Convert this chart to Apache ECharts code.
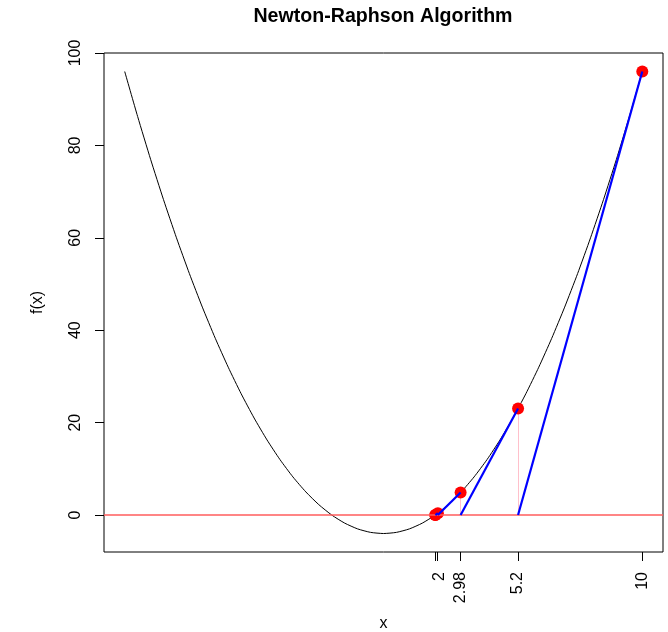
<!DOCTYPE html>
<html>
<head>
<meta charset="utf-8">
<script src="https://cdn.jsdelivr.net/npm/echarts@6/dist/echarts.min.js"></script>
<style>
  html, body { margin: 0; padding: 0; background: #ffffff; }
  #main { width: 668px; height: 632px; }
</style>
</head>
<body>
<div id="main"></div>
<script>
// 曲线 f(x) 读图取值
var curveX = [-10, -9.5, -9, -8.5, -8, -7.5, -7, -6.5, -6, -5.5, -5, -4.5, -4, -3.5, -3, -2.5, -2, -1.5, -1, -0.5,
    0, 0.5, 1, 1.5, 2, 2.5, 3, 3.5, 4, 4.5, 5, 5.5, 6, 6.5, 7, 7.5, 8, 8.5, 9, 9.5, 10]
var curveY = [96, 86.25, 77, 68.25, 60, 52.25, 45, 38.25, 32, 26.25, 21, 16.25, 12, 8.25, 5, 2.25, 0, -1.75, -3, -3.75,
    -4, -3.75, -3, -1.75, 0, 2.25, 5, 8.25, 12, 16.25, 21, 26.25, 32, 38.25, 45, 52.25, 60, 68.25, 77, 86.25, 96]

// 迭代点
var iterX = [10, 5.2, 2.98, 2.1, 2.006, 2.0]
var iterY = [96, 23.04, 4.88, 0.41, 0.02, 0]

// 坐标轴刻度
var xTicks = [2.0, 2.006, 2.08, 2.98, 5.2, 10]
var xLabelPos = [2.16, 2.98, 5.2, 10]
var xLabelText = ['2', '2.98', '5.2', '10']
var yTicks = [0, 20, 40, 60, 80, 100]

var curveData = []
for (let i = 0; i < curveX.length; i++) {
    curveData.push([curveX[i], curveY[i]])
}
var pointData = []
var tangentLines = []   // 蓝色切线
var dropLines = []      // 粉色竖线
for (let i = 0; i < iterX.length; i++) {
    pointData.push([iterX[i], iterY[i]])
    if (i + 1 < iterX.length) {
        tangentLines.push({coords: [[iterX[i], iterY[i]], [iterX[i + 1], 0]]})
        dropLines.push({coords: [[iterX[i + 1], 0], [iterX[i + 1], iterY[i + 1]]]})
    }
}

var chartDom = document.getElementById('main');
var myChart = echarts.init(chartDom);
var option;
var fontFam = 'Liberation Sans, Arial, sans-serif'

option = {
    animation: false,
    title: {
        text: 'Newton-Raphson Algorithm',
        left: 378,
        top: 2,
        textAlign: 'center',
        textStyle: {
            color: '#000000',
            fontWeight: 'bold',
            fontFamily: fontFam,
            fontSize: 19.6
        }
    },
    grid: {
        left: 104,
        right: 5,
        top: 53,
        bottom: 80,
        containLabel: false,
        outerBoundsMode: 'none',
        show: true,
        borderColor: '#000000',
        borderWidth: 1,
        backgroundColor: 'transparent'
    },
    xAxis: {
        type: 'value',
        min: -10.8,
        max: 10.8,
        name: 'x',
        nameLocation: 'middle',
        nameGap: 64,
        nameTextStyle: {color: '#000', fontSize: 16, fontFamily: fontFam},
        splitLine: {show: false},
        axisLine: {show: false, onZero: false},
        axisTick: {
            show: true,
            length: 9,
            customValues: xTicks,
            lineStyle: {color: '#000', width: 1}
        },
        axisLabel: {
            show: true,
            rotate: 90,
            margin: 20,
            customValues: xLabelPos,
            color: '#000',
            fontSize: 16,
            fontFamily: fontFam,
            formatter: function (v) {
                let k = xLabelPos.indexOf(v)
                return k >= 0 ? xLabelText[k] : ''
            }
        }
    },
    yAxis: {
        type: 'value',
        min: -8,
        max: 100,
        name: 'f(x)',
        nameLocation: 'middle',
        nameGap: 58,
        nameRotate: 90,
        nameTextStyle: {color: '#000', fontSize: 16, fontFamily: fontFam},
        splitLine: {show: false},
        axisLine: {show: false, onZero: false},
        axisTick: {
            show: true,
            length: 9,
            customValues: yTicks,
            lineStyle: {color: '#000', width: 1}
        },
        axisLabel: {
            show: true,
            rotate: 90,
            margin: 20,
            customValues: yTicks,
            color: '#000',
            fontSize: 16,
            fontFamily: fontFam
        }
    },
    series: [
        {
            type: 'line',
            data: curveData,
            showSymbol: false,
            smooth: 0.2,
            z: 2,
            lineStyle: {color: '#000000', width: 1},
            markLine: {
                silent: true,
                symbol: ['none', 'none'],
                label: {show: false},
                lineStyle: {color: '#ff5c5c', width: 1.5, type: 'solid'},
                data: [{yAxis: 0}]
            }
        },
        {
            type: 'lines',
            coordinateSystem: 'cartesian2d',
            data: dropLines,
            z: 3,
            lineStyle: {color: '#ffc0cb', width: 1, opacity: 1}
        },
        {
            type: 'scatter',
            data: pointData,
            symbolSize: 12,
            z: 4,
            itemStyle: {color: '#ff0000', opacity: 1}
        },
        {
            type: 'lines',
            coordinateSystem: 'cartesian2d',
            data: tangentLines,
            z: 5,
            lineStyle: {color: '#0000ff', width: 2.2, opacity: 1}
        }
    ]
};
option && myChart.setOption(option);
</script>
</body>
</html>
